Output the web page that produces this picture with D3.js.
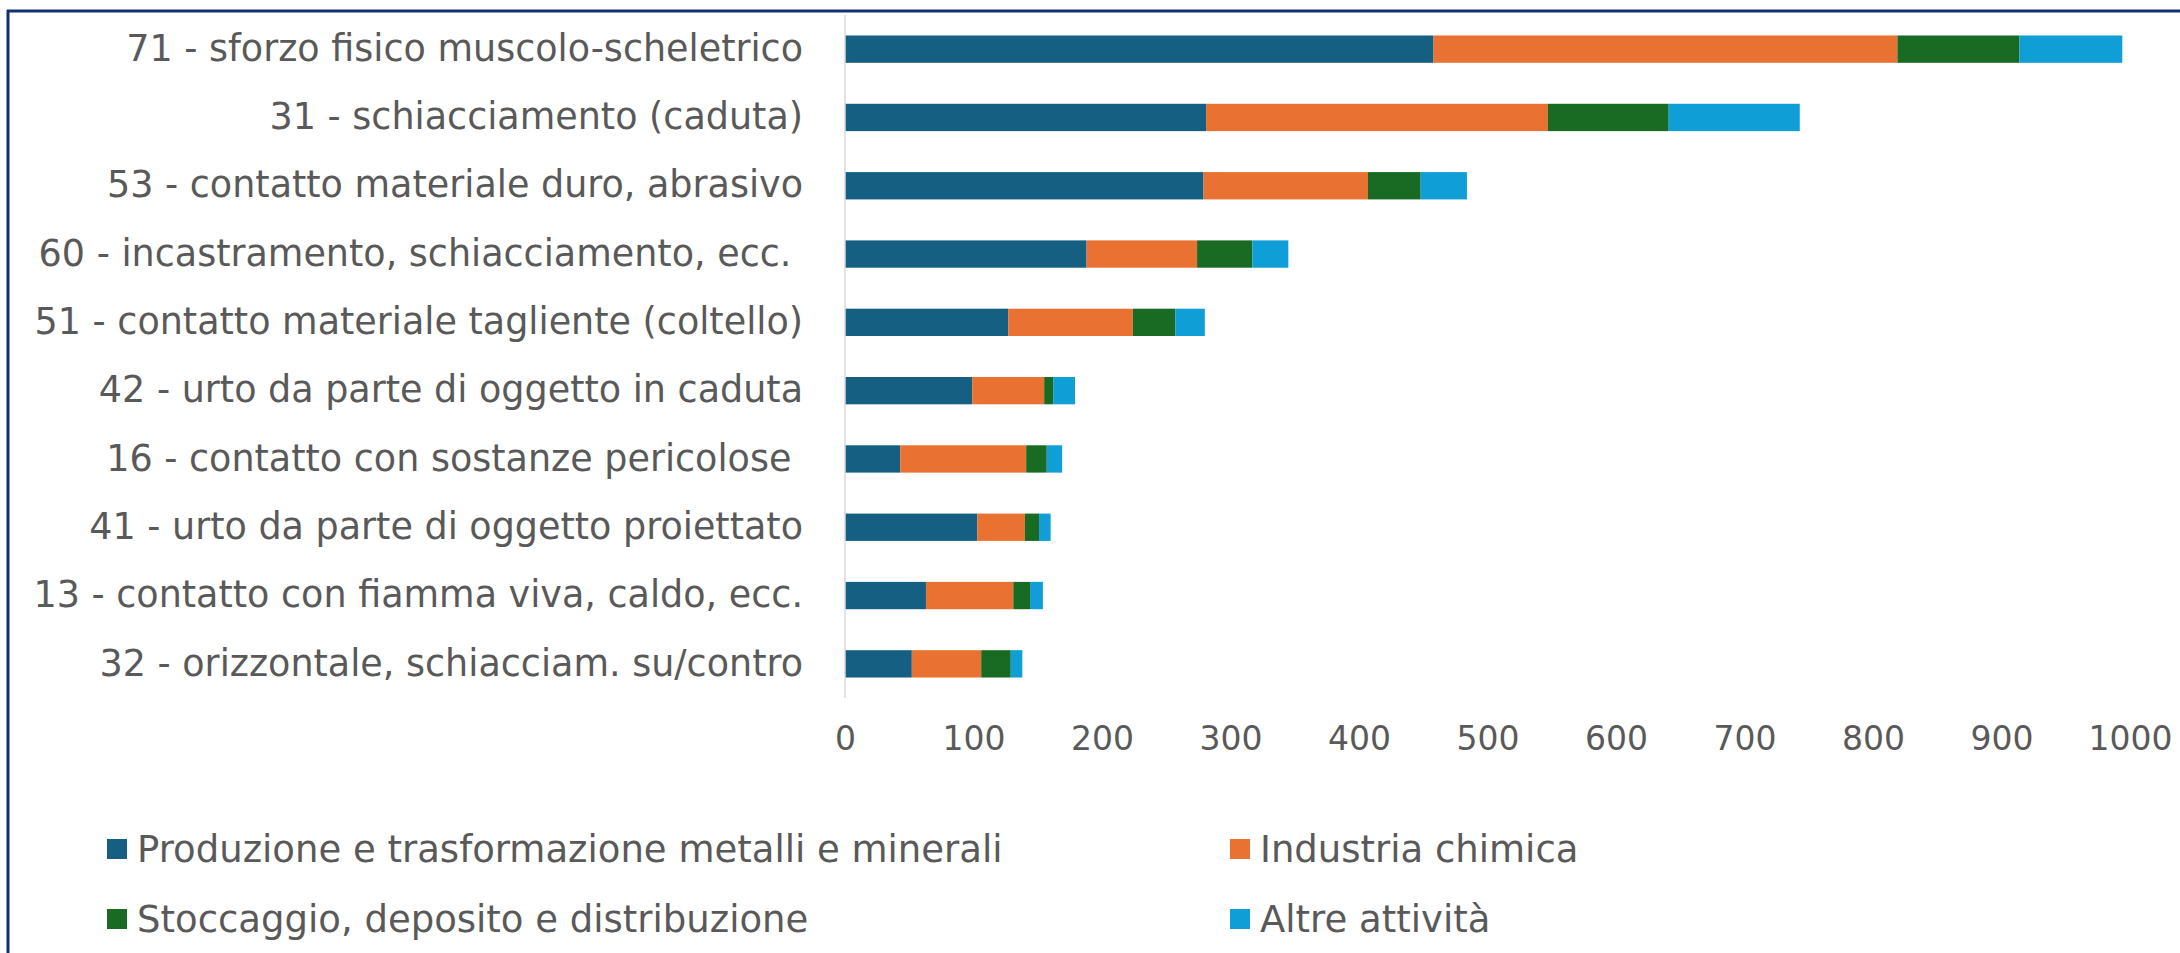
<!DOCTYPE html>
<html>
<head>
<meta charset="utf-8">
<script src="https://cdn.jsdelivr.net/npm/d3@7"></script>
<style>
  html, body { margin: 0; padding: 0; background: #ffffff; }
  svg { display: block; }
  text { font-family: "DejaVu Sans", "Open Sans", sans-serif; fill: #595959; }
</style>
</head>
<body>
<script>
// ---- data (top to bottom) ----
const categories = [
  "71 - sforzo fisico muscolo-scheletrico",
  "31 - schiacciamento (caduta)",
  "53 - contatto materiale duro, abrasivo",
  "60 - incastramento, schiacciamento, ecc. ",
  "51 - contatto materiale tagliente (coltello)",
  "42 - urto da parte di oggetto in caduta",
  "16 - contatto con sostanze pericolose ",
  "41 - urto da parte di oggetto proiettato",
  "13 - contatto con fiamma viva, caldo, ecc.",
  "32 - orizzontale, schiacciam. su/contro"
];
const seriesNames = [
  "Produzione e trasformazione metalli e minerali",
  "Industria chimica",
  "Stoccaggio, deposito e distribuzione",
  "Altre attività"
];
const produzione = [458, 281, 279, 188, 127, 99, 43, 103, 63, 52];
const chimica    = [361, 266, 128,  86,  97, 56, 98,  37, 68, 54];
const stoccaggio = [ 95,  94,  41,  43,  33,  7, 16,  11, 13, 23];
const altre      = [ 80, 102,  36,  28,  23, 17, 12,   9, 10,  9];
const tickValues = [0, 100, 200, 300, 400, 500, 600, 700, 800, 900, 1000];
const colors = ["#156082", "#E97132", "#196B24", "#0F9ED5"];

const W = 2180, H = 953;
const svg = d3.select("body").append("svg").attr("width", W).attr("height", H);

// frame border (top + left visible)
svg.append("line").attr("x1", 7).attr("x2", W).attr("y1", 11).attr("y2", 11)
  .attr("stroke", "#12306c").attr("stroke-width", 3);
svg.append("line").attr("x1", 8).attr("x2", 8).attr("y1", 10).attr("y2", H)
  .attr("stroke", "#12306c").attr("stroke-width", 3);

const table = categories.map((c, i) => ({
  cat: c, s0: produzione[i], s1: chimica[i], s2: stoccaggio[i], s3: altre[i]
}));
const keys = ["s0", "s1", "s2", "s3"];
const stacked = d3.stack().keys(keys)(table);

const x = d3.scaleLinear().domain([0, 1000]).range([845, 2130]);
const y = d3.scaleBand().domain(categories).range([15, 698]).paddingInner(0.6).paddingOuter(0.3);

// bars
svg.append("g").selectAll("g").data(stacked).join("g")
  .attr("fill", (d, i) => colors[i])
  .selectAll("rect").data(d => d).join("rect")
  .attr("x", d => x(d[0]))
  .attr("y", d => y(d.data.cat))
  .attr("width", d => x(d[1]) - x(d[0]))
  .attr("height", y.bandwidth());

// vertical axis line
svg.append("line").attr("x1", x(0)).attr("x2", x(0)).attr("y1", 15).attr("y2", 698)
  .attr("stroke", "#d9d9d9").attr("stroke-width", 1.5);

// category labels
const yAxis = svg.append("g").attr("transform", `translate(${x(0)},0)`)
  .call(d3.axisLeft(y).tickSize(0).tickPadding(42));
yAxis.select(".domain").remove();
yAxis.selectAll("text").attr("font-size", 36.5).attr("font-family", null)
  .style("white-space", "pre").attr("fill", "#595959");

// x axis labels
const xAxis = svg.append("g").attr("transform", `translate(0,730)`)
  .call(d3.axisBottom(x).tickValues(tickValues).tickSize(0).tickPadding(0).tickFormat(d3.format("d")));
xAxis.select(".domain").remove();
xAxis.selectAll("text").attr("font-size", 33).attr("font-family", null)
  .attr("dy", "0.62em").attr("fill", "#595959");

// legend
const legendPos = [[107, 849], [1230, 849], [107, 919], [1230, 919]];
const legend = svg.append("g").selectAll("g").data(seriesNames).join("g")
  .attr("transform", (d, i) => `translate(${legendPos[i][0]},${legendPos[i][1]})`);
legend.append("rect").attr("x", 0).attr("y", -10).attr("width", 20).attr("height", 20)
  .attr("fill", (d, i) => colors[i]);
legend.append("text").attr("x", 30).attr("y", 0).attr("dy", "0.35em")
  .attr("font-size", 37).text(d => d);
</script>
</body>
</html>
